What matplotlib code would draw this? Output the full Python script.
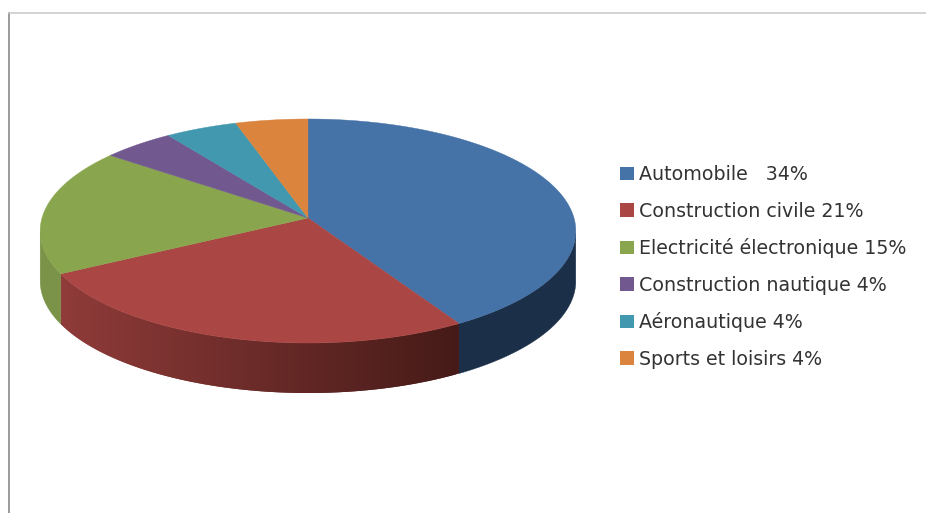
import numpy as np
import matplotlib
matplotlib.use("Agg")
import matplotlib.pyplot as plt
from matplotlib.patches import Patch
from matplotlib.colors import to_rgb

labels = ["Automobile   34%", "Construction civile 21%", "Electricité électronique 15%",
          "Construction nautique 4%", "Aéronautique 4%", "Sports et loisirs 4%"]
values = [34, 21, 15, 4, 4, 4]
colors = ["#4572A7", "#AA4643", "#89A54E", "#71588F", "#4198AF", "#DB843D"]
side_colors = ["#1B2F48", None, "#7A9348", "#4A3A60", "#2A6675", "#905628"]
red_left, red_right = "#8F3B39", "#451A17"

# pie geometry in pixels, with a bit of perspective on the disc
cx, cy = 308, 218
rx, ry = 266, 110.5
persp = 0.116
depth = 50


def project(theta):
    u, v = np.sin(theta), np.cos(theta)
    w = 1 + persp * v
    return cx + rx * u / w, cy - ry * v / w


fig = plt.figure(figsize=(9.26, 5.13), dpi=100)
ax = fig.add_axes([0, 0, 1, 1])
ax.set_xlim(0, 926)
ax.set_ylim(513, 0)
ax.axis("off")

ax.plot([8.5, 8.5], [12, 513], color="#808080", lw=1.1, solid_capstyle="butt")
ax.plot([8, 926], [12.5, 12.5], color="#C8C8C8", lw=1.1, solid_capstyle="butt")

edges = 2 * np.pi * np.concatenate([[0], np.cumsum(values)]) / np.sum(values)
x_red = project(edges[1:3])[0]

# outer wall, only the front of the rim shows
for i in range(len(values)):
    th = np.linspace(edges[i], edges[i + 1], 120)
    th = th[np.cos(th) < -persp + 0.001]
    if len(th) < 2:
        continue
    xs, ys = project(th)
    if i != 1:
        ax.fill(np.r_[xs, xs[::-1]], np.r_[ys, ys[::-1] + depth], color=side_colors[i], lw=0.3)
        continue
    # the red wall darkens from left to right, later strips overlap earlier ones
    for j in range(len(th) - 1):
        t = (0.5 * (xs[j] + xs[j + 1]) - x_red[0]) / (x_red[1] - x_red[0])
        c = (1 - t) * np.array(to_rgb(red_right)) + t * np.array(to_rgb(red_left))
        end = min(j + 3, len(th))
        ax.fill(np.r_[xs[j:end], xs[j:end][::-1]], np.r_[ys[j:end], ys[j:end][::-1] + depth],
                color=c, lw=0)

# top face
for i in range(len(values)):
    th = np.linspace(edges[i], edges[i + 1], 200)
    xs, ys = project(th)
    ax.fill(np.r_[cx, xs], np.r_[cy, ys], color=colors[i], lw=0.3)

handles = [Patch(facecolor=c, edgecolor="none") for c in colors]
ax.legend(handles, labels, loc="upper left", bbox_to_anchor=(620 / 926, 1 - 165 / 513),
          frameon=False, labelspacing=0.92, handlelength=0.73,
          handleheight=0.73, handletextpad=0.28, borderaxespad=0, borderpad=0,
          prop={"family": "DejaVu Sans", "size": 13.7}, labelcolor="#333333")

fig.savefig("out.png", dpi=100)
